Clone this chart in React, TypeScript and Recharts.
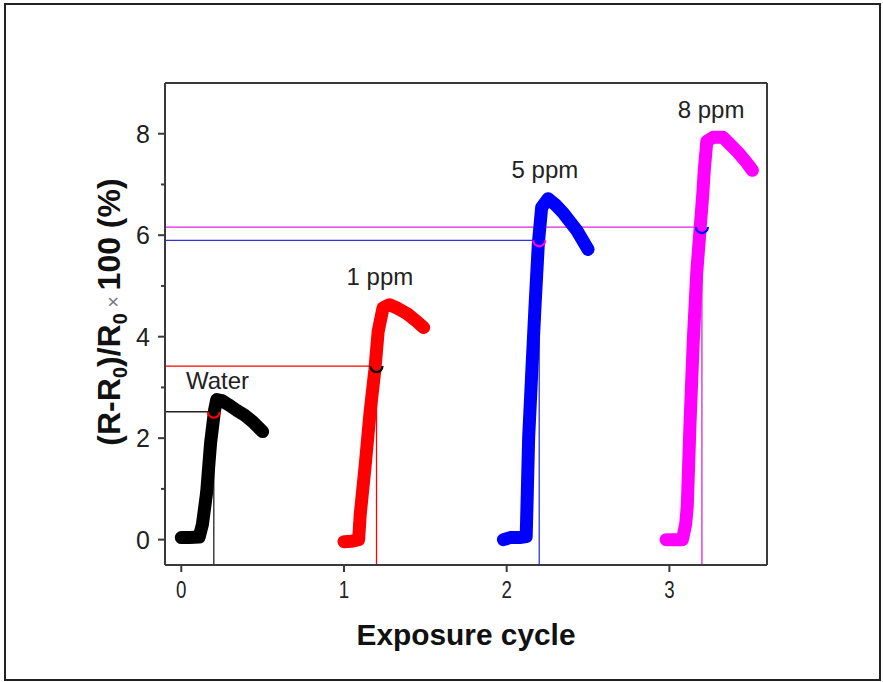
import React from 'react'
import {
  ComposedChart,
  Line,
  Scatter,
  XAxis,
  YAxis,
  ReferenceLine,
  ReferenceDot,
} from 'recharts'

// response curves, one per exposure cycle
const water = [
  { x: 0.0, y: 0.04 }, { x: 0.05, y: 0.04 }, { x: 0.11, y: 0.05 }, { x: 0.13, y: 0.3 },
  { x: 0.156, y: 0.93 }, { x: 0.18, y: 1.9 }, { x: 0.205, y: 2.56 }, { x: 0.218, y: 2.76 },
  { x: 0.25, y: 2.74 }, { x: 0.29, y: 2.66 }, { x: 0.34, y: 2.55 }, { x: 0.39, y: 2.45 },
  { x: 0.44, y: 2.32 }, { x: 0.5, y: 2.13 },
]
const ppm1 = [
  { x: 1.0, y: -0.04 }, { x: 1.05, y: -0.03 }, { x: 1.09, y: 0.0 }, { x: 1.1, y: 0.5 },
  { x: 1.13, y: 1.45 }, { x: 1.16, y: 2.5 }, { x: 1.19, y: 3.35 }, { x: 1.21, y: 4.1 },
  { x: 1.24, y: 4.57 }, { x: 1.28, y: 4.63 }, { x: 1.33, y: 4.56 }, { x: 1.39, y: 4.45 },
  { x: 1.44, y: 4.32 }, { x: 1.49, y: 4.18 },
]
const ppm5 = [
  { x: 1.98, y: 0.0 }, { x: 2.02, y: 0.04 }, { x: 2.08, y: 0.04 }, { x: 2.12, y: 0.06 },
  { x: 2.125, y: 0.7 }, { x: 2.135, y: 2.0 }, { x: 2.155, y: 3.35 }, { x: 2.175, y: 4.65 },
  { x: 2.195, y: 5.85 }, { x: 2.215, y: 6.55 }, { x: 2.255, y: 6.72 }, { x: 2.3, y: 6.6 },
  { x: 2.35, y: 6.43 }, { x: 2.43, y: 6.1 }, { x: 2.5, y: 5.72 },
]
const ppm8 = [
  { x: 2.98, y: 0.0 }, { x: 3.03, y: 0.0 }, { x: 3.08, y: 0.0 }, { x: 3.1, y: 0.3 },
  { x: 3.11, y: 0.66 }, { x: 3.127, y: 2.3 }, { x: 3.147, y: 3.93 }, { x: 3.168, y: 5.25 },
  { x: 3.188, y: 6.1 }, { x: 3.205, y: 6.8 }, { x: 3.215, y: 7.3 }, { x: 3.23, y: 7.85 },
  { x: 3.27, y: 7.93 }, { x: 3.33, y: 7.93 }, { x: 3.37, y: 7.8 }, { x: 3.42, y: 7.64 },
  { x: 3.47, y: 7.45 }, { x: 3.51, y: 7.28 },
]

const guides = [
  { x: 0.2, y: 2.52, color: '#222222', mark: '#ff0000' },
  { x: 1.2, y: 3.42, color: '#ff0000', mark: '#000000' },
  { x: 2.2, y: 5.9, color: '#3333dd', mark: '#ff00ff' },
  { x: 3.2, y: 6.16, color: '#dd22dd', mark: '#0000ff' },
]

const labels = [
  { text: 'Water', x: 0.223, y: 3.14 },
  { text: '1 ppm', x: 1.221, y: 5.19 },
  { text: '5 ppm', x: 2.235, y: 7.3 },
  { text: '8 ppm', x: 3.256, y: 8.48 },
]

const xTicks = [0, 1, 2, 3]
const yTicks = [0, 1, 2, 3, 4, 5, 6, 7, 8]

const AXIS = '#3a3a3a'
const FONT = '"Liberation Sans", Arial, sans-serif'
const X_DOMAIN = [-0.1, 3.6]
const Y_DOMAIN = [-0.5, 9]

const LeftTick = (props: any) => {
  const { x, y, payload } = props
  const major = payload.value % 2 === 0
  const axisX = x + 15
  return (
    <g>
      <line x1={axisX - (major ? 7 : 4)} x2={axisX} y1={y} y2={y} stroke={AXIS} strokeWidth={2} />
      {major && (
        <text x={x} y={y} dy="0.36em" textAnchor="end" fontSize={25} fontFamily={FONT} fill="#222">
          {payload.value}
        </text>
      )}
    </g>
  )
}

const BottomTick = (props: any) => {
  const { x, y, payload } = props
  return (
    <text
      transform={`translate(${x},${y}) scale(0.78,1)`}
      dy="0.71em"
      textAnchor="middle"
      fontSize={24}
      fontFamily={FONT}
      fill="#222"
    >
      {payload.value}
    </text>
  )
}

const lowerArc = (color: string) => (props: any) => {
  const { cx, cy } = props
  return (
    <path
      d={`M${cx - 6},${cy} A6,6 0 0 0 ${cx + 6},${cy}`}
      fill="none"
      stroke={color}
      strokeWidth={2.2}
    />
  )
}

const yTitle = (props: any) => {
  const { viewBox } = props
  const cx = viewBox.x + 108
  const cy = viewBox.y + viewBox.height / 2 - 12
  return (
    <text
      x={cx}
      y={cy}
      transform={`rotate(-90, ${cx}, ${cy})`}
      textAnchor="middle"
      dy="0.36em"
      fontFamily={FONT}
      fontWeight="bold"
      fontSize={32}
      fill="#111"
    >
      <tspan>(R-R</tspan>
      <tspan fontSize={20} dy={7}>0</tspan>
      <tspan dy={-7}>)/R</tspan>
      <tspan fontSize={20} dy={7}>0</tspan>
      <tspan dy={-7} fontSize={20} fontWeight="normal" fill="#777">{' \u00d7 '}</tspan>
      <tspan>100 (%)</tspan>
    </text>
  )
}

const xTitle = (props: any) => {
  const { viewBox } = props
  return (
    <text
      x={viewBox.x + viewBox.width / 2}
      y={viewBox.y + 80}
      textAnchor="middle"
      fontFamily={FONT}
      fontWeight="bold"
      fontSize={30}
      textLength={219}
      lengthAdjust="spacingAndGlyphs"
      fill="#111"
    >
      Exposure cycle
    </text>
  )
}

const series = [
  { data: water, color: '#000000' },
  { data: ppm1, color: '#ff0000' },
  { data: ppm5, color: '#0000ff' },
  { data: ppm8, color: '#ff00ff' },
]

export default function App() {
  return (
    <div style={{ position: 'absolute', left: 0, top: 0, width: 883, height: 682, background: '#fff' }}>
      <div
        style={{
          position: 'absolute',
          left: 4,
          top: 3,
          width: 877,
          height: 678,
          border: '2px solid #222',
          boxSizing: 'border-box',
        }}
      />
      <div style={{ position: 'absolute', left: 0, top: 0 }}>
        <ComposedChart width={883} height={682} margin={{ top: 83, right: 116, bottom: 77, left: 0 }}>
          <XAxis
            xAxisId="bottom"
            type="number"
            dataKey="x"
            domain={X_DOMAIN}
            allowDataOverflow
            ticks={xTicks}
            tickSize={7}
            tickMargin={9}
            height={40}
            axisLine={{ stroke: AXIS, strokeWidth: 2 }}
            tickLine={{ stroke: AXIS, strokeWidth: 2 }}
            tick={<BottomTick />}
            label={xTitle}
          />
          <XAxis
            xAxisId="top"
            orientation="top"
            mirror
            type="number"
            dataKey="x"
            domain={X_DOMAIN}
            allowDataOverflow
            ticks={xTicks}
            tickSize={7}
            tick={false}
            axisLine={{ stroke: AXIS, strokeWidth: 2 }}
            tickLine={{ stroke: AXIS, strokeWidth: 2 }}
          />
          <YAxis
            yAxisId="left"
            type="number"
            domain={Y_DOMAIN}
            allowDataOverflow
            ticks={yTicks}
            interval={0}
            width={165}
            tickSize={7}
            tickMargin={8}
            tickLine={false}
            axisLine={{ stroke: AXIS, strokeWidth: 2 }}
            tick={<LeftTick />}
            label={yTitle}
          />
          <YAxis
            yAxisId="right"
            orientation="right"
            mirror
            type="number"
            domain={Y_DOMAIN}
            allowDataOverflow
            ticks={yTicks}
            interval={0}
            tickSize={7}
            tick={false}
            axisLine={{ stroke: AXIS, strokeWidth: 2 }}
            tickLine={{ stroke: AXIS, strokeWidth: 2 }}
          />

          {guides.map((g, i) => (
            <ReferenceLine
              key={`h${i}`}
              xAxisId="bottom"
              yAxisId="left"
              segment={[{ x: X_DOMAIN[0], y: g.y }, { x: g.x, y: g.y }]}
              stroke={g.color}
              strokeWidth={1.3}
            />
          ))}
          {guides.map((g, i) => (
            <ReferenceLine
              key={`v${i}`}
              xAxisId="bottom"
              yAxisId="left"
              segment={[{ x: g.x, y: Y_DOMAIN[0] }, { x: g.x, y: g.y }]}
              stroke={g.color}
              strokeWidth={1.3}
            />
          ))}

          {series.map((s, i) => (
            <Line
              key={i}
              xAxisId="bottom"
              yAxisId="left"
              data={s.data}
              dataKey="y"
              type="linear"
              stroke={s.color}
              strokeWidth={13}
              strokeLinecap="round"
              strokeLinejoin="round"
              dot={false}
              activeDot={false}
              isAnimationActive={false}
            />
          ))}

          {guides.map((g, i) => (
            <Scatter
              key={`m${i}`}
              xAxisId="bottom"
              yAxisId="left"
              data={[{ x: g.x, y: g.y }]}
              dataKey="y"
              shape={lowerArc(g.mark)}
              isAnimationActive={false}
            />
          ))}

          {labels.map((l) => (
            <ReferenceDot
              key={l.text}
              xAxisId="bottom"
              yAxisId="left"
              x={l.x}
              y={l.y}
              r={0}
              fill="none"
              stroke="none"
              label={{ value: l.text, position: 'center', fontSize: 24, fontFamily: FONT, fill: '#222' }}
            />
          ))}
        </ComposedChart>
      </div>
    </div>
  )
}
